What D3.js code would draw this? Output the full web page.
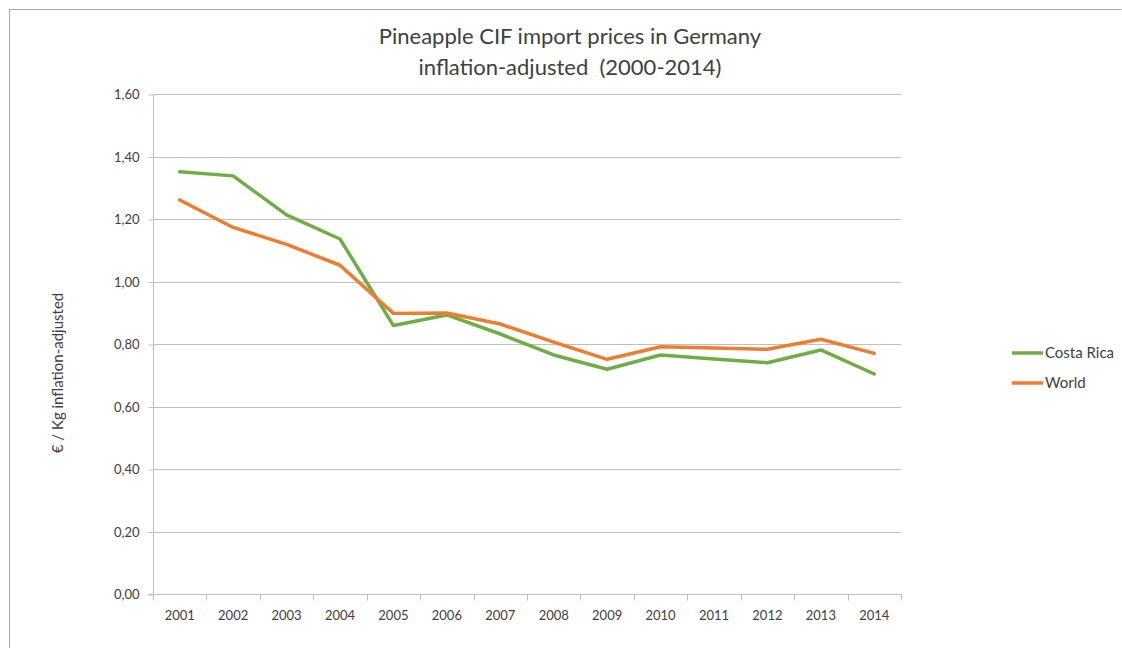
<!DOCTYPE html>
<meta charset="utf-8">
<style>
    body { margin: 0; background: #fff; }
    text { font-family: Lato, "Open Sans", sans-serif; fill: #404040; }
    .grid line { stroke: #bfbfbf; stroke-width: 1px; }
    .axis path, .axis line { stroke: #bfbfbf; }
</style>
<svg width="1122" height="648"></svg>
<script src="https://d3js.org/d3.v7.min.js"></script>
<script>

    var years = ["2001", "2002", "2003", "2004", "2005", "2006", "2007", "2008", "2009", "2010", "2011", "2012", "2013", "2014"];
    var costaRica = [1.351, 1.338, 1.213, 1.136, 0.859, 0.893, 0.832, 0.765, 0.719, 0.765, 0.752, 0.740, 0.781, 0.704];
    var world = [1.261, 1.173, 1.119, 1.052, 0.898, 0.899, 0.864, 0.806, 0.751, 0.791, 0.787, 0.783, 0.815, 0.770];
    var yTicks = [0, 0.2, 0.4, 0.6, 0.8, 1.0, 1.2, 1.4, 1.6];

    var series = [
        {name: "Costa Rica", values: costaRica, color: "#70ad47"},
        {name: "World", values: world, color: "#ed7d31"}
    ];

    var svg = d3.select("svg");

    // frame
    svg.append("path")
        .attr("d", "M9.5,648V9.5H1121.5")
        .attr("fill", "none")
        .attr("stroke", "#a6a6a6");

    var x = d3.scaleBand().domain(years).range([153, 901]);
    var y = d3.scaleLinear().domain([0, 1.6]).range([594, 94]);
    var fmt = function (d) { return d3.format(".2f")(d).replace(".", ","); };

    // gridlines
    svg.append("g").attr("class", "grid")
        .selectAll("line")
        .data(yTicks.slice(1))
        .enter().append("line")
        .attr("x1", 153).attr("x2", 901)
        .attr("y1", function (d) { return Math.round(y(d)) + 0.5; })
        .attr("y2", function (d) { return Math.round(y(d)) + 0.5; });

    // y axis
    var yAxis = svg.append("g").attr("class", "axis")
        .attr("transform", "translate(153.5,0.5)")
        .call(d3.axisLeft(y).tickValues(yTicks).tickFormat(fmt).tickSize(5).tickSizeOuter(0));
    yAxis.selectAll("text").attr("font-size", 13).attr("x", -14).style("fill", "#404040");
    yAxis.select(".domain").attr("d", "M0," + y(1.6) + "V" + y(0));

    // x axis
    var xAxis = svg.append("g").attr("class", "axis")
        .attr("transform", "translate(0,594.5)");
    xAxis.append("line").attr("x1", 148).attr("x2", 901).attr("y1", 0).attr("y2", 0);
    xAxis.selectAll(".tk")
        .data(years.concat(["end"]))
        .enter().append("line")
        .attr("x1", function (d, i) { return Math.round(i < years.length ? x(d) : x.range()[1]) + 0.5; })
        .attr("x2", function (d, i) { return Math.round(i < years.length ? x(d) : x.range()[1]) + 0.5; })
        .attr("y1", 0).attr("y2", 6);
    xAxis.selectAll("text")
        .data(years)
        .enter().append("text")
        .attr("x", function (d) { return x(d) + x.bandwidth() / 2; })
        .attr("y", 25)
        .attr("text-anchor", "middle")
        .attr("font-size", 13)
        .text(function (d) { return d; });

    // lines
    var line = d3.line()
        .x(function (d, i) { return x(years[i]) + x.bandwidth() / 2; })
        .y(function (d) { return y(d); });

    svg.selectAll(".series")
        .data(series)
        .enter().append("path")
        .attr("class", "series")
        .attr("d", function (d) { return line(d.values); })
        .attr("fill", "none")
        .attr("stroke", function (d) { return d.color; })
        .attr("stroke-width", 3.5)
        .attr("stroke-linejoin", "round")
        .attr("stroke-linecap", "round");

    // title
    var title = svg.append("text")
        .attr("text-anchor", "middle")
        .attr("font-size", 22);
    title.append("tspan").attr("x", 570).attr("y", 44).text("Pineapple CIF import prices in Germany");
    title.append("tspan").attr("x", 570).attr("y", 75).text("inflation-adjusted\u00a0 (2000-2014)");

    // y title
    svg.append("text")
        .attr("transform", "translate(63,373) rotate(-90)")
        .attr("text-anchor", "middle")
        .attr("font-size", 15)
        .text("€ / Kg inflation-adjusted");

    // legend
    var legend = svg.selectAll(".legend")
        .data(series)
        .enter().append("g")
        .attr("class", "legend")
        .attr("transform", function (d, i) { return "translate(1012," + (353 + i * 30) + ")"; });
    legend.append("line")
        .attr("x1", 0).attr("x2", 31).attr("y1", 0).attr("y2", 0)
        .attr("stroke", function (d) { return d.color; })
        .attr("stroke-width", 3.5);
    legend.append("text")
        .attr("x", 33).attr("y", 5)
        .attr("font-size", 15)
        .text(function (d) { return d.name; });

</script>
